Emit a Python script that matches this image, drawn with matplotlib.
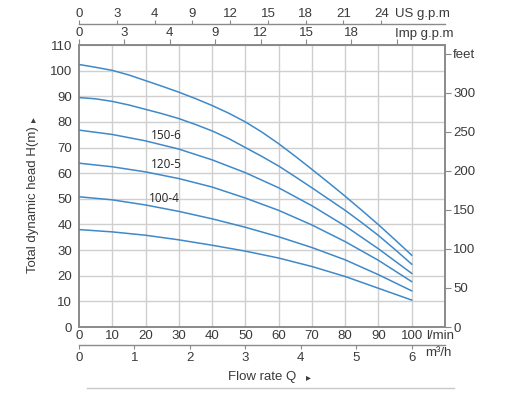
import matplotlib
matplotlib.use("Agg")
import matplotlib.pyplot as plt
from matplotlib.lines import Line2D

plt.rcParams['font.family'] = ['Liberation Sans', 'DejaVu Sans']

# ---- data ----
flow_fine = [0, 5, 10, 15, 20, 25, 30, 35, 40, 45, 50,
             55, 60, 65, 70, 75, 80, 85, 90, 95, 100]
curve_a = [102.4, 101.3, 100.1, 98.3, 96.1, 93.9, 91.6, 89.1, 86.4, 83.4, 80.0,
           76.0, 71.5, 66.6, 61.5, 56.3, 51.0, 45.5, 39.9, 34.0, 28.0]
curve_b = [89.5, 89.0, 88.0, 86.6, 84.9, 83.2, 81.3, 79.0, 76.5, 73.5, 70.0,
           66.5, 62.8, 58.6, 54.3, 49.9, 45.5, 40.7, 35.7, 30.2, 24.5]

flow_lmin = [0, 10, 20, 30, 40, 50, 60, 70, 80, 90, 100]
curve_150_6 = [76.8, 75.1, 72.6, 69.4, 65.2, 60.2, 54.3, 47.3, 39.4, 30.5, 20.9]
curve_120_5 = [63.9, 62.5, 60.5, 57.9, 54.6, 50.3, 45.5, 39.8, 33.3, 26.0, 17.7]
curve_100_4 = [50.8, 49.6, 47.6, 45.1, 42.2, 38.9, 35.2, 31.0, 26.2, 20.4, 14.1]
curve_f = [38.0, 37.1, 35.8, 34.0, 31.9, 29.6, 26.9, 23.6, 19.7, 15.1, 10.5]

series = [(flow_fine, curve_a), (flow_fine, curve_b), (flow_lmin, curve_150_6),
          (flow_lmin, curve_120_5), (flow_lmin, curve_100_4), (flow_lmin, curve_f)]

curve_labels = ["150-6", "120-5", "100-4"]
curve_label_pos = [(21.5, 74.8), (21.5, 63.2), (21.0, 50.3)]

lmin_ticks = list(range(0, 101, 10))
m3h_ticks = [0, 1, 2, 3, 4, 5, 6]
us_ticks = [0, 3, 6, 9, 12, 15, 18, 21, 24]
us_labels = ['0', '3', '4', '9', '12', '15', '18', '21', '24']
imp_ticks = [0, 3, 6, 9, 12, 15, 18, 21]
imp_labels = ['0', '3', '4', '9', '12', '15', '18', '']
feet_ticks = [0, 50, 100, 150, 200, 250, 300, 350]
feet_labels = ['0', '50', '100', '150', '200', '250', '300', 'feet']
head_ticks = list(range(0, 111, 10))

# ---- styling ----
W, H = 506, 395
fig = plt.figure(figsize=(W / 100, H / 100), dpi=100)
L, R, T, B = 79, 445, 45, 327
ax = fig.add_axes([L / W, 1 - B / H, (R - L) / W, (B - T) / H])

txt = '#3a3a3a'
spine_c = '#8a8a8a'
grid_c = '#cfcfcf'
line_c = '#3f89c9'
fs = 9.5

ax.set_xlim(0, 110)
ax.set_ylim(0, 110)
for v in range(10, 110, 10):
    ax.axvline(v, color=grid_c, lw=1.0, zorder=0)
    ax.axhline(v, color=grid_c, lw=1.0, zorder=0)

for xs, ys in series:
    ax.plot(xs, ys, color=line_c, lw=1.1, zorder=3, solid_joinstyle='round')

for lab, (x, y) in zip(curve_labels, curve_label_pos):
    ax.text(x, y, lab, fontsize=8.5, color='#222222', va='center', ha='left',
            family=['Open Sans', 'DejaVu Sans'], zorder=4)

for s in ax.spines.values():
    s.set_color(spine_c)
    s.set_linewidth(1.4)

ax.set_xticks(lmin_ticks)
ax.set_xticklabels([str(t) for t in lmin_ticks])
ax.set_yticks(head_ticks)
ax.set_yticklabels([str(t) for t in head_ticks])
ax.tick_params(axis='both', length=0, labelsize=fs, labelcolor=txt)
ax.tick_params(axis='x', pad=2)
ax.tick_params(axis='y', pad=5)

# right feet axis
axr = ax.twinx()
axr.set_ylim(0, 110 * 3.28084)
axr.set_yticks(feet_ticks)
axr.set_yticklabels(feet_labels)
axr.tick_params(axis='y', length=4, color=spine_c, labelsize=fs, labelcolor=txt, pad=2)
for s in axr.spines.values():
    s.set_visible(False)

# top Imp g.p.m axis
imp = ax.secondary_xaxis('top', functions=(lambda x: x / 4.54609, lambda x: x * 4.54609))
imp.set_xticks(imp_ticks)
imp.set_xticklabels(imp_labels)
imp.tick_params(direction='out', length=4, color=spine_c, labelsize=fs, labelcolor=txt, pad=0)
imp.spines['top'].set_color(spine_c)

# top US g.p.m axis
us = ax.secondary_xaxis(1 + 21 / (B - T), functions=(lambda x: x / 3.78541, lambda x: x * 3.78541))
us.set_xticks(us_ticks)
us.set_xticklabels(us_labels)
us.tick_params(direction='out', length=3, color=spine_c, labelsize=fs, labelcolor=txt, pad=0)
us.spines['top'].set_color(spine_c)
us.spines['top'].set_linewidth(1.0)

# bottom m3/h axis
m3 = ax.secondary_xaxis(-18 / (B - T), functions=(lambda x: x * 0.06, lambda x: x / 0.06))
m3.set_xticks(m3h_ticks)
m3.set_xticklabels([str(t) for t in m3h_ticks])
m3.tick_params(direction='out', length=3, color=spine_c, labelsize=fs, labelcolor=txt, pad=2)
m3.spines['bottom'].set_color(spine_c)
m3.spines['bottom'].set_linewidth(1.0)

# unit texts (figure pixel coords)
def ftext(x, y, s, size=fs, **kw):
    fig.text(x / W, 1 - y / H, s, fontsize=size, color=txt, **kw)

ftext(395, 14, 'US g.p.m', va='center', ha='left')
ftext(395, 34, 'Imp g.p.m', va='center', ha='left')
ftext(426, 336, 'l/min', va='center', ha='left')
ftext(425, 353, 'm³/h', va='center', ha='left')
ftext(262, 377, 'Flow rate Q', va='center', ha='center')
ftext(308, 377, '▸', size=7, va='center', ha='center')
fig.text(33 / W, 1 - 200 / H, 'Total dynamic head H(m)', fontsize=fs, color=txt,
         rotation=90, va='center', ha='center')
fig.text(33 / W, 1 - 120 / H, '▸', fontsize=7, color=txt,
         rotation=90, va='center', ha='center')

fig.add_artist(Line2D([87 / W, 454 / W], [1 - 388 / H, 1 - 388 / H],
                      color='#c8c8c8', lw=1.0, transform=fig.transFigure))

fig.savefig('out.png', dpi=100, facecolor='white')
